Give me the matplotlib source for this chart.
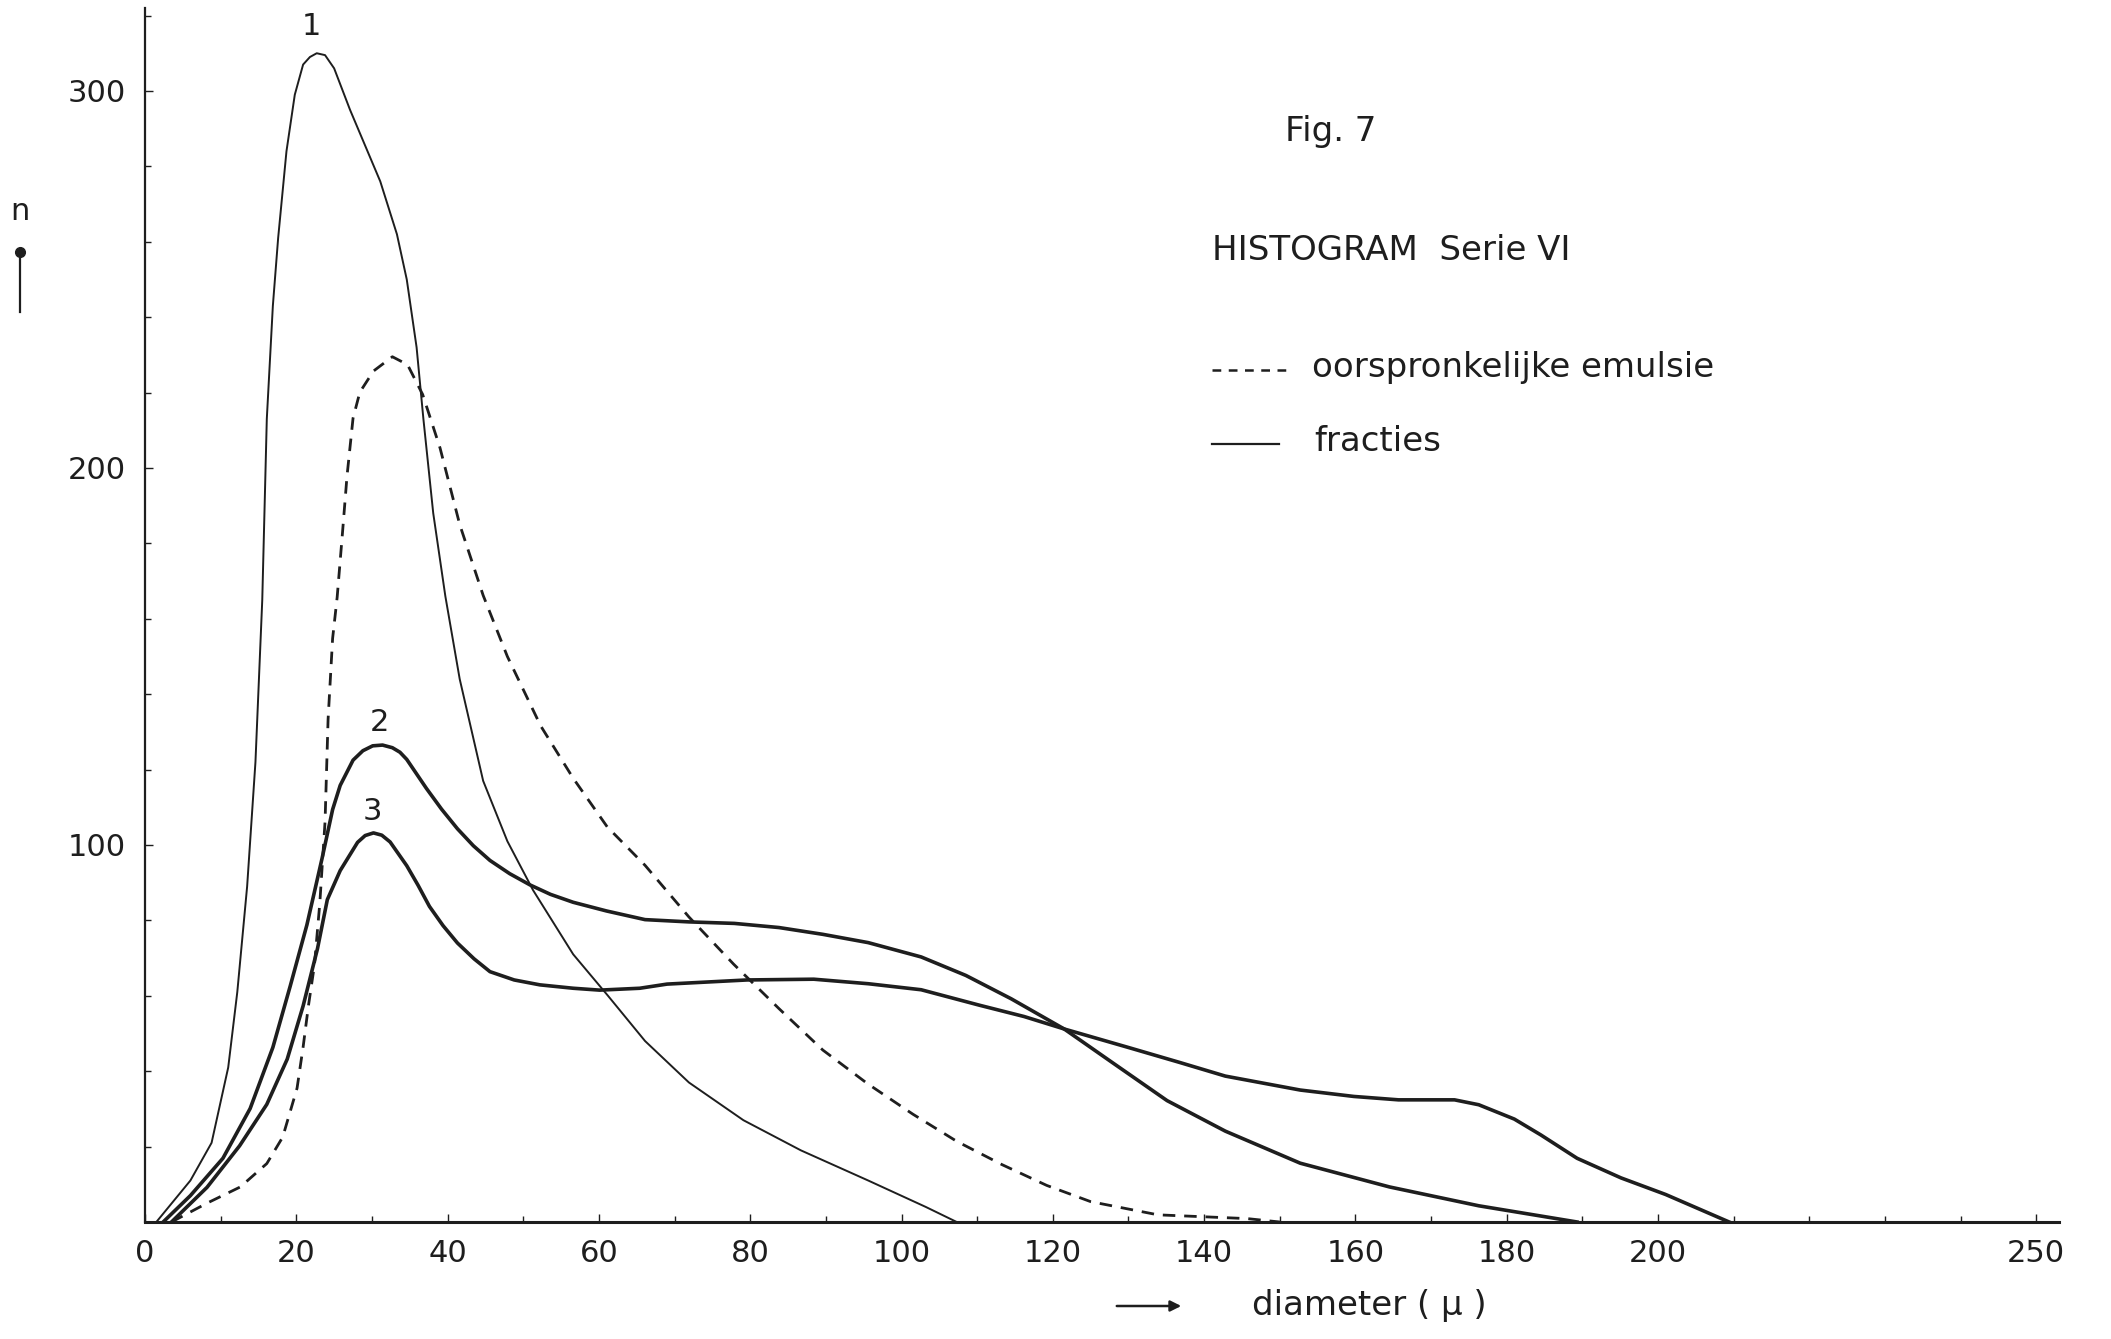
import numpy as np
import matplotlib
matplotlib.use("Agg")
import matplotlib.pyplot as plt
from matplotlib.lines import Line2D

# --- data (diameter in micron, n) ---
# fraction 1 (thin solid, tall peak)
f1_x = [1.5, 6.0, 8.8, 11.0, 12.2, 13.5, 14.6, 15.5, 16.1, 16.9, 17.6, 18.7,
        19.8, 20.9, 21.8, 22.7, 23.8, 25.0, 27.1, 31.1, 33.3, 34.6, 35.9,
        36.8, 38.1, 39.7, 41.6, 44.7, 47.9, 51.3, 56.6, 61.2, 66.1, 71.9,
        79.1, 86.7, 95.6, 103.2, 107.3]
f1_y = [0, 11, 21, 41, 61, 89, 122, 165, 213, 243, 261, 284,
        299, 307, 309, 310, 309.5, 306, 295, 276, 262, 250, 232,
        213, 188, 166, 144, 117, 101, 88, 71, 60, 48, 37,
        27, 19, 11, 4, 0]

# original emulsion (dashed)
em_x = [3.5, 8.2, 12.6, 16.1, 18.2, 20.1, 20.9, 21.6, 22.4, 23.1, 23.8, 24.2,
        24.8, 25.4, 26.1, 26.7, 27.5, 28.4, 30.2, 32.7, 34.7, 36.7, 39.0,
        41.6, 44.7, 47.9, 52.3, 56.6, 61.1, 66.1, 71.9, 77.8, 83.8, 89.6,
        95.5, 101.5, 107.3, 113.3, 119.2, 125.0, 133.9, 145.7, 150.0]
em_y = [0, 5, 9.3, 15.5, 22.5, 35.5, 46.4, 57.3, 68.2, 84.4, 106.2, 133.3,
        154.8, 165.7, 182.7, 197.8, 213.2, 220.1, 225.7, 229.5, 227.4, 219.5,
        205.3, 185, 166.2, 150, 131.6, 117.7, 104.8, 94.6, 80.9, 68.4, 56.6,
        45.6, 36.7, 28.6, 21.4, 15.2, 9.7, 5.4, 1.9, 0.9, 0]

# fraction 2
f2_x = [2.4, 6.0, 10.3, 13.9, 16.9, 19.2, 21.4, 23.4, 24.8, 25.8, 27.5, 28.8,
        30.1, 31.4, 32.7, 33.7, 34.6, 37.2, 39.2, 41.3, 43.4, 45.6, 48.2,
        50.9, 53.6, 56.6, 61.0, 66.1, 71.9, 77.9, 83.8, 89.6, 95.6, 102.6,
        108.5, 114.5, 121.5, 128.0, 135.1, 142.8, 152.7, 164.5, 176.3, 189.3]
f2_y = [0, 7, 16.9, 30.1, 46.3, 62.6, 78.8, 96.4, 109.4, 115.8, 122.5, 125,
        126.3, 126.5, 125.8, 124.6, 122.7, 115, 109.5, 104.3, 99.8, 95.9, 92.4,
        89.4, 86.9, 84.8, 82.5, 80.2, 79.6, 79.2, 78.1, 76.3, 74.1, 70.3,
        65.4, 59.2, 51.2, 42.1, 32.2, 24.1, 15.6, 9.3, 4.3, 0]

# fraction 3
f3_x = [3.5, 8.2, 12.5, 16.1, 18.8, 20.9, 22.8, 24.1, 25.8, 28.1, 29.1, 30.2,
        31.3, 32.4, 34.6, 36.1, 37.6, 39.4, 41.3, 43.5, 45.6, 48.8, 52.2,
        56.6, 60.1, 65.4, 69.0, 79.6, 88.4, 95.6, 102.6, 110.3, 116.2, 121.5,
        129.8, 136.8, 142.8, 152.7, 159.8, 165.7, 173.1, 176.3, 181.0, 184.5,
        189.3, 195.1, 201.0, 209.4]
f3_y = [0, 9.2, 20.2, 31.2, 43.2, 57.3, 72.5, 85.5, 93.2, 100.7, 102.5, 103.2,
        102.6, 100.8, 94.5, 89.3, 83.7, 78.6, 74.0, 69.8, 66.4, 64.2, 62.9,
        62.0, 61.5, 62, 63.1, 64.2, 64.4, 63.2, 61.6, 57.5, 54.5, 51.2,
        46.4, 42.3, 38.7, 35.0, 33.3, 32.4, 32.4, 31.1, 27.3, 23.1,
        16.9, 11.7, 7.3, 0]

x_ticks = [0, 20, 40, 60, 80, 100, 120, 140, 160, 180, 200, 250]
y_ticks = [100, 200, 300]
peak_labels = [("1", 22.0, 317), ("2", 31.0, 132.5), ("3", 30.0, 109)]

INK = "#1e1e1e"
W, H = 2111, 1339
plt.rcParams.update({
    "font.family": "DejaVu Sans",
    "text.color": INK,
    "axes.edgecolor": INK,
    "xtick.color": INK,
    "ytick.color": INK,
})


def fx(px):
    return px / W


def fy(py):
    return 1 - py / H


fig = plt.figure(figsize=(W / 100, H / 100), dpi=100, facecolor="white")
ax = fig.add_axes([fx(145), fy(1222), 1914 / W, 1214 / H])
ax.set_xlim(0, 253)
ax.set_ylim(0, 322)

ax.plot(f1_x, f1_y, color=INK, lw=1.4, solid_joinstyle="round")
ax.plot(em_x, em_y, color=INK, lw=2.0, dashes=(4.5, 3.2))
ax.plot(f2_x, f2_y, color=INK, lw=2.6, solid_joinstyle="round")
ax.plot(f3_x, f3_y, color=INK, lw=2.6, solid_joinstyle="round")

for txt, x, y in peak_labels:
    ax.text(x, y, txt, fontsize=22, ha="center", va="center")

for side in ("top", "right"):
    ax.spines[side].set_visible(False)
ax.spines["left"].set_linewidth(1.6)
ax.spines["bottom"].set_linewidth(2.2)

ax.set_xticks(x_ticks)
ax.set_xticklabels([str(t) for t in x_ticks])
ax.set_xticks(np.arange(10, 251, 10), minor=True)
ax.set_yticks(y_ticks)
ax.set_yticklabels([str(t) for t in y_ticks])
ax.set_yticks(np.arange(20, 321, 20), minor=True)
ax.tick_params(which="both", direction="in", width=1.0)
ax.tick_params(which="major", length=6, labelsize=22)
ax.tick_params(which="minor", length=4)
ax.tick_params(axis="x", which="major", pad=12)
ax.tick_params(axis="y", which="major", pad=14)

# titles and key
fig.text(fx(1285), fy(131), "Fig. 7", fontsize=24.5, va="center", ha="left")
fig.text(fx(1212), fy(250), "HISTOGRAM  Serie VI", fontsize=24.5,
         va="center", ha="left")
fig.add_artist(Line2D([fx(1212), fx(1292)], [fy(370), fy(370)],
                      color=INK, lw=1.8, dashes=(3.5, 3.0)))
fig.text(fx(1312), fy(368), "oorspronkelijke emulsie", fontsize=24.5,
         va="center", ha="left")
fig.add_artist(Line2D([fx(1212), fx(1279)], [fy(444), fy(444)],
                      color=INK, lw=1.6))
fig.text(fx(1314), fy(441), "fracties", fontsize=24.5, va="center", ha="left")

# axis labels
fig.text(fx(20), fy(211), "n", fontsize=22, ha="center", va="center")
fig.add_artist(Line2D([fx(20), fx(20)], [fy(312), fy(252)], color=INK,
                      lw=1.6))
fig.add_artist(Line2D([fx(20)], [fy(252)], color=INK, marker="o",
                      markersize=7))
ax.annotate("", xy=(fx(1184), fy(1306)), xytext=(fx(1114), fy(1306)),
            xycoords="figure fraction",
            arrowprops=dict(arrowstyle="-|>", color=INK, lw=1.8,
                            mutation_scale=16))
fig.text(fx(1252), fy(1306), "diameter ( \u03bc )", fontsize=24.5,
         ha="left", va="center")

fig.savefig("out.png", dpi=100, facecolor="white")
